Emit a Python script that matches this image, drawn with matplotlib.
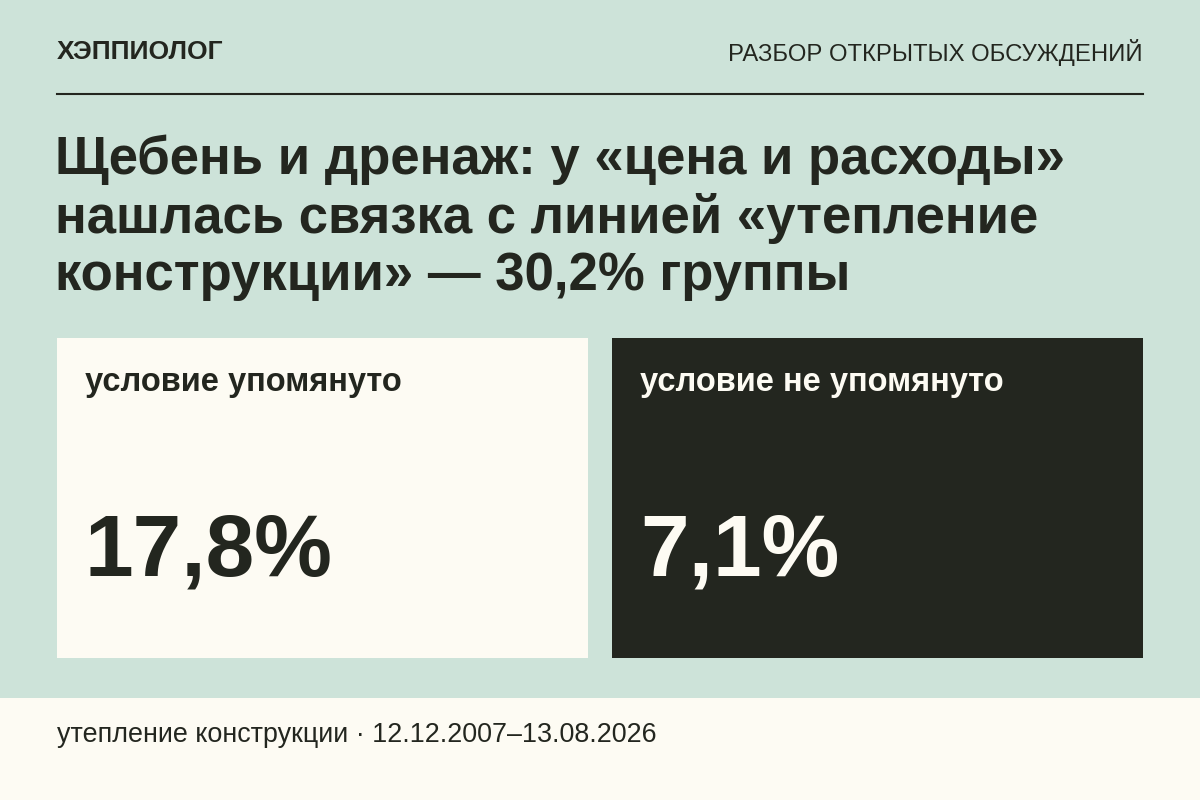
import matplotlib
matplotlib.use('Agg')
import matplotlib.pyplot as plt
from matplotlib.patches import Rectangle

plt.rcParams['font.family'] = ['Liberation Sans', 'DejaVu Sans']

brand = 'ХЭППИОЛОГ'
section = 'РАЗБОР ОТКРЫТЫХ ОБСУЖДЕНИЙ'
title_lines = ['Щебень и дренаж: у «цена и расходы»',
               'нашлась связка с линией «утепление',
               'конструкции» — 30,2% группы']
labels = ['условие упомянуто', 'условие не упомянуто']
values = [17.8, 7.1]
footer = 'утепление конструкции · 12.12.2007–13.08.2026'

W, H = 1200, 800
fig = plt.figure(figsize=(12, 8), dpi=100)
fig.patch.set_facecolor('#cde3d9')
ax = fig.add_axes([0, 0, 1, 1])
ax.set_xlim(0, W)
ax.set_ylim(H, 0)
ax.axis('off')

dark = '#23261f'
light = '#fdfbf3'

ax.add_patch(Rectangle((0, 698), W, 102, color=light, lw=0))
ax.text(57, 52, brand, fontsize=19, fontweight='bold', color=dark, va='center')
ax.text(1143, 52, section, fontsize=17.2, color=dark, va='center', ha='right')
ax.plot([57, 1143], [94, 94], color=dark, lw=1.5)

for i, line in enumerate(title_lines):
    ax.text(55, 160 + i * 58, line, fontsize=38, fontweight='bold',
            color=dark, va='center')

box_x = [57, 612]
box_w = 531
for x, lab, v, bg, fg in zip(box_x, labels, values, [light, dark], [dark, light]):
    ax.add_patch(Rectangle((x, 338), box_w, 320, color=bg, lw=0))
    ax.text(x + 28, 382, lab, fontsize=23.5, fontweight='bold', color=fg, va='center')
    ax.text(x + 28, 553, f'{v:.1f}%'.replace('.', ','), fontsize=63,
            fontweight='bold', color=fg, va='center')

ax.text(57, 735, footer, fontsize=19.4, color=dark, va='center')

fig.savefig('out.png', dpi=100, facecolor=fig.get_facecolor())
